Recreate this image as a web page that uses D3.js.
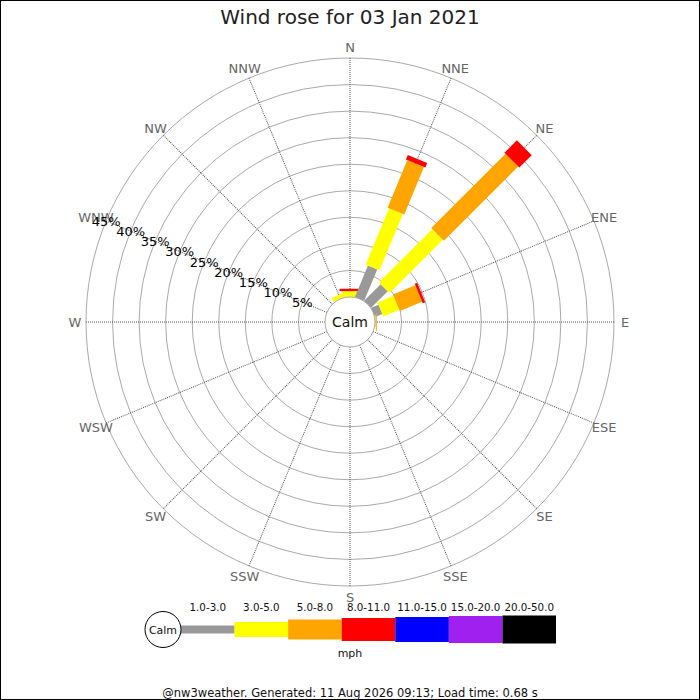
<!DOCTYPE html>
<html>
<head>
<meta charset="utf-8">
<script src="https://cdn.jsdelivr.net/npm/d3@7"></script>
<style>
  body { margin: 0; background: #fff; }
  svg { font-family: "DejaVu Sans", sans-serif; display: block; }
</style>
</head>
<body>
<div id="chart"></div>
<script>
// wind rose data, % of time per direction and speed band
const directions = ["N","NNE","NE","ENE","E","ESE","SE","SSE","S","SSW","SW","WSW","W","WNW","NW","NNW"];
const speedBands = ["1.0-3.0","3.0-5.0","5.0-8.0","8.0-11.0","11.0-15.0","15.0-20.0","20.0-50.0"];
const bandColors = ["#999999","#ffff00","#ffa500","#ff0000","#0000ff","#a020f0","#000000"];

//                  N    NNE   NE    ENE   E    ESE SE SSE S SSW SW WSW W WNW NW NNW
const band1to3   = [0,   6.4,  4.4,  1.5,  0.1, 0, 0, 0, 0, 0, 0, 0, 0, 0, 0, 0];
const band3to5   = [1.1, 11.5, 14.2, 3.25, 0.1, 0, 0, 0, 0, 0, 0, 0, 0, 0, 0, 0.8];
const band5to8   = [0,   9.7,  19.8, 4.55, 0.15,0, 0, 0, 0, 0, 0, 0, 0, 0, 0, 0];
const band8to11  = [0.45,0.9,  3.3,  0.5,  0,   0, 0, 0, 0, 0, 0, 0, 0, 0, 0, 0];
const band11to15 = [0,0,0,0,0,0,0,0,0,0,0,0,0,0,0,0];
const band15to20 = [0,0,0,0,0,0,0,0,0,0,0,0,0,0,0,0];
const band20to50 = [0,0,0,0,0,0,0,0,0,0,0,0,0,0,0,0];

const ringTicks = [5,10,15,20,25,30,35,40,45];

const title = "Wind rose for 03 Jan 2021";
const footer = "@nw3weather. Generated: 11 Aug 2026 09:13; Load time: 0.68 s";

const series = [band1to3, band3to5, band5to8, band8to11, band11to15, band15to20, band20to50];

const width = 700, height = 700;
const cx = 350, cy = 322;
const calmR = 25, outerR = 264;
const barWidths = [10, 15, 18, 21, 24, 26, 28];
const legendHeights = [8, 15, 20, 23, 25, 27, 28];

const svg = d3.select("#chart").append("svg")
    .attr("width", width)
    .attr("height", height);

svg.append("rect")
    .attr("x", 0.5).attr("y", 0.5)
    .attr("width", width - 1).attr("height", height - 1)
    .attr("fill", "#fff").attr("stroke", "#000");

svg.append("text")
    .attr("x", cx).attr("y", 24)
    .attr("text-anchor", "middle")
    .attr("font-size", 20)
    .attr("fill", "#222")
    .text(title);

var r = d3.scaleLinear().domain([0, 45]).range([calmR, outerR]);
var angle = d3.scaleLinear().domain([0, directions.length]).range([0, 360]);

var g = svg.append("g").attr("transform", `translate(${cx},${cy})`);

// rings
g.selectAll("circle.ring")
    .data(ringTicks)
    .join("circle")
    .attr("class", "ring")
    .attr("r", d => r(d))
    .attr("fill", "none")
    .attr("stroke", "#aaa")
    .attr("stroke-width", 1);

// spokes
g.selectAll("line.spoke")
    .data(directions)
    .join("line")
    .attr("class", "spoke")
    .attr("x1", 0).attr("y1", -calmR)
    .attr("x2", 0).attr("y2", -outerR)
    .attr("transform", (d, i) => `rotate(${angle(i)})`)
    .attr("stroke", "#555")
    .attr("stroke-dasharray", "1,1")
    .attr("stroke-width", 1);

// bars, stacked outward
directions.forEach((dir, i) => {
    var cum = 0;
    var dg = g.append("g").attr("transform", `rotate(${angle(i)})`);
    series.forEach((vals, b) => {
        var v = vals[i];
        if (v <= 0) return;
        dg.append("rect")
            .attr("x", -barWidths[b] / 2)
            .attr("y", -r(cum + v))
            .attr("width", barWidths[b])
            .attr("height", r(cum + v) - r(cum))
            .attr("fill", bandColors[b]);
        cum += v;
    });
});

// calm circle
g.append("circle")
    .attr("r", calmR)
    .attr("fill", "#fff")
    .attr("stroke", "#aaa");
g.append("text")
    .attr("y", 5)
    .attr("text-anchor", "middle")
    .attr("font-size", 14)
    .attr("fill", "#111")
    .text("Calm");

// direction labels
g.selectAll("text.dir")
    .data(directions)
    .join("text")
    .attr("class", "dir")
    .attr("x", (d, i) => Math.sin(angle(i) * Math.PI / 180) * (outerR + 11))
    .attr("y", (d, i) => -Math.cos(angle(i) * Math.PI / 180) * (outerR + 11) + 5)
    .attr("text-anchor", "middle")
    .attr("font-size", 13)
    .attr("fill", "#666")
    .text(d => d);

// percentage labels along WNW
var labAng = angle(13) * Math.PI / 180;
g.selectAll("text.pct")
    .data(ringTicks)
    .join("text")
    .attr("class", "pct")
    .attr("x", d => Math.sin(labAng) * r(d))
    .attr("y", d => -Math.cos(labAng) * r(d) + 5)
    .attr("text-anchor", "middle")
    .attr("font-size", 13)
    .attr("fill", "#000")
    .text(d => d + "%");

// legend
var lx = d3.scaleBand().domain(speedBands).range([181, 556]);
var ly = 629.5;
var leg = svg.append("g");
leg.selectAll("rect")
    .data(speedBands)
    .join("rect")
    .attr("x", d => lx(d))
    .attr("y", (d, i) => ly - legendHeights[i] / 2)
    .attr("width", lx.bandwidth())
    .attr("height", (d, i) => legendHeights[i])
    .attr("fill", (d, i) => bandColors[i]);
leg.selectAll("text")
    .data(speedBands)
    .join("text")
    .attr("x", d => lx(d) + lx.bandwidth() / 2)
    .attr("y", 611)
    .attr("text-anchor", "middle")
    .attr("font-size", 10.3)
    .attr("fill", "#111")
    .text(d => d);
leg.append("circle")
    .attr("cx", 163).attr("cy", ly)
    .attr("r", 18)
    .attr("fill", "#fff").attr("stroke", "#000");
leg.append("text")
    .attr("x", 163).attr("y", ly + 4)
    .attr("text-anchor", "middle")
    .attr("font-size", 11)
    .attr("fill", "#111")
    .text("Calm");
leg.append("text")
    .attr("x", 350).attr("y", 657)
    .attr("text-anchor", "middle")
    .attr("font-size", 11)
    .attr("fill", "#111")
    .text("mph");

svg.append("text")
    .attr("x", 350).attr("y", 697)
    .attr("text-anchor", "middle")
    .attr("font-size", 11.5)
    .attr("fill", "#111")
    .text(footer);
</script>
</body>
</html>
